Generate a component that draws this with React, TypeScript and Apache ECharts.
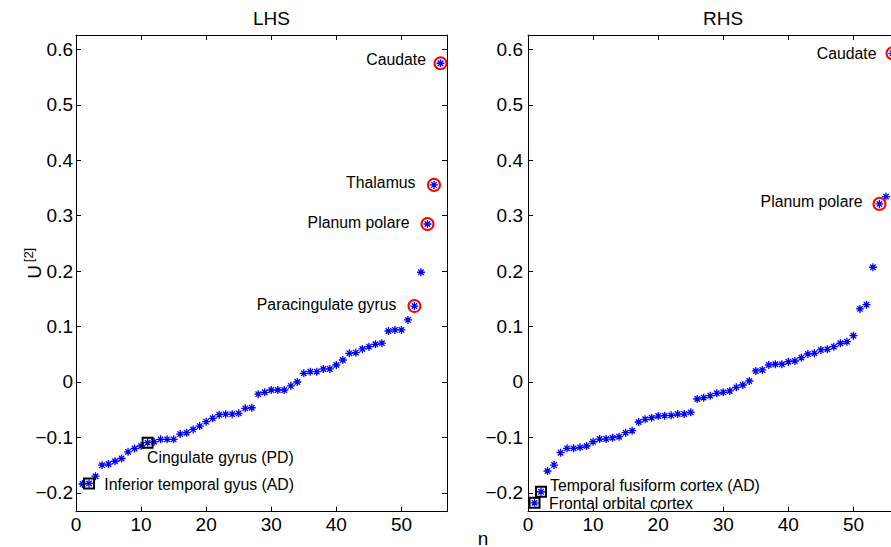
import React, { useEffect, useRef } from 'react';
import * as echarts from 'echarts';

// ---------- data ----------
const nValues = [
  1, 2, 3, 4, 5, 6, 7, 8, 9, 10, 11, 12, 13, 14, 15, 16, 17, 18, 19, 20,
  21, 22, 23, 24, 25, 26, 27, 28, 29, 30, 31, 32, 33, 34, 35, 36, 37, 38, 39, 40,
  41, 42, 43, 44, 45, 46, 47, 48, 49, 50, 51, 52, 53, 54, 55, 56,
];

const lhsValues = [
  -0.184, -0.183, -0.170, -0.150, -0.148, -0.143, -0.138, -0.126, -0.120, -0.1155,
  -0.1095, -0.108, -0.1035, -0.1035, -0.1035, -0.094, -0.0915, -0.0855, -0.0795, -0.0715,
  -0.0655, -0.059, -0.058, -0.058, -0.0565, -0.0475, -0.0465, -0.022, -0.0186, -0.0144,
  -0.0144, -0.0144, -0.007, 0.0, 0.0156, 0.0186, 0.0186, 0.0235, 0.0235, 0.0307,
  0.0397, 0.0517, 0.053, 0.0596, 0.0638, 0.068, 0.070, 0.092, 0.094, 0.094,
  0.112, 0.137, 0.198, 0.285, 0.3556, 0.575,
];

const rhsValues = [
  -0.218, -0.198, -0.1606, -0.1498, -0.1276, -0.1197, -0.1197, -0.1179, -0.1155, -0.1078,
  -0.1029, -0.1029, -0.1005, -0.0987, -0.0915, -0.0879, -0.0722, -0.0673, -0.0644, -0.0614,
  -0.0608, -0.0601, -0.0578, -0.0578, -0.0547, -0.0307, -0.0283, -0.0247, -0.0204, -0.0186,
  -0.0162, -0.0096, -0.0054, 0.0018, 0.0199, 0.0217, 0.0307, 0.032, 0.032, 0.0366,
  0.0379, 0.0439, 0.0505, 0.0518, 0.0578, 0.059, 0.0637, 0.0699, 0.0727, 0.0836,
  0.1318, 0.1395, 0.207, 0.3213, 0.3345, 0.593,
];

const lhsCircled = [52, 54, 55, 56];
const lhsCircledNames = ['Paracingulate gyrus', 'Planum polare', 'Thalamus', 'Caudate'];
const lhsBoxed = [2, 11];
const lhsBoxedNames = ['Inferior temporal gyus (AD)', 'Cingulate gyrus (PD)'];

const rhsCircled = [54, 56];
const rhsCircledNames = ['Planum polare', 'Caudate'];
const rhsBoxed = [1, 2];
const rhsBoxedNames = ['Frontal orbital cortex', 'Temporal fusiform cortex (AD)'];

const xMin = 0;
const xMax = 57;
const xStep = 10;
const yMin = -0.234;
const yMax = 0.626;
const yStep = 0.1;

const panelTitles = ['LHS', 'RHS'];
const xAxisTitle = 'n';
const yAxisTitleMain = 'U';
const yAxisTitleSup = '[2]';

// ---------- styles ----------
const FONT = '"Liberation Sans", Arial, Helvetica, sans-serif';
const ASTERISK =
  'path://M5,0 L5,10 M0,5 L10,5 M1.6,1.6 L8.4,8.4 M1.6,8.4 L8.4,1.6';

// label placement (style): [position, distance, dx, dy]
const labelPlacement: Record<string, [string, number, number, number]> = {
  'L:Caudate': ['left', 7.5, 0, -3.5],
  'L:Thalamus': ['left', 11.5, 0, -2.3],
  'L:Planum polare': ['left', 11, 0, -1.3],
  'L:Paracingulate gyrus': ['left', 11, 0, -1.7],
  'L:Cingulate gyrus (PD)': ['right', 0, -6.5, 15],
  'L:Inferior temporal gyus (AD)': ['right', 9.3, 0, 1],
  'R:Caudate': ['left', 9, 0, 0],
  'R:Planum polare': ['left', 10, 0, -2.3],
  'R:Temporal fusiform cortex (AD)': ['right', 3, 0, -6.7],
  'R:Frontal orbital cortex': ['right', 8.5, 0, 0.7],
};

const fmtY = (v: number) => {
  const r = Math.round(v / yStep);
  if (Math.abs(v / yStep - r) > 1e-6) return '';
  if (r === 0) return '0';
  const s = (Math.abs(r) * yStep).toFixed(1);
  return r < 0 ? '\u2212' + s : s;
};
const fmtX = (v: number) => {
  const r = Math.round(v / xStep);
  if (Math.abs(v / xStep - r) > 1e-6) return '';
  return String(r * xStep);
};

function makeAxes(gridIndex: number) {
  const tick = { show: true, inside: true, length: 5, lineStyle: { color: '#000', width: 1 } };
  const line = { show: true, onZero: false, lineStyle: { color: '#000', width: 1 } };
  const labelStyle = { color: '#000', fontSize: 19, fontFamily: FONT };
  const xCommon = {
    type: 'value', gridIndex, min: xMin, max: xMax, interval: xStep,
    splitLine: { show: false }, axisLine: line, axisTick: tick,
  };
  const yCommon = {
    type: 'value', gridIndex, min: yMin, max: yMax,
    minInterval: yStep, maxInterval: yStep, splitNumber: 9,
    splitLine: { show: false }, axisLine: line, axisTick: tick,
  };
  return {
    x: [
      { ...xCommon, position: 'bottom', axisLabel: { ...labelStyle, margin: 3, formatter: fmtX, showMaxLabel: false } },
      { ...xCommon, position: 'top', axisLabel: { show: false } },
    ],
    y: [
      {
        ...yCommon, position: 'left',
        axisLabel: { ...labelStyle, margin: gridIndex === 0 ? 3 : 5, formatter: fmtY, showMinLabel: false, showMaxLabel: false },
      },
      { ...yCommon, position: 'right', axisLabel: { show: false } },
    ],
  };
}

function panelSeries(side: 'L' | 'R', values: number[], circled: number[], circledNames: string[], boxed: number[], boxedNames: string[], axisBase: number) {
  const mkLabel = (name: string) => {
    const p = labelPlacement[side + ':' + name];
    return {
      show: true,
      formatter: name,
      position: p[0],
      distance: p[1],
      offset: [p[2], p[3]],
      color: '#000',
      fontSize: 15.8,
      fontFamily: FONT,
    };
  };
  return [
    {
      type: 'scatter',
      xAxisIndex: axisBase,
      yAxisIndex: axisBase,
      data: nValues.map((n, i) => [n, values[i]]),
      symbol: ASTERISK,
      symbolSize: 8,
      itemStyle: { color: 'rgba(0,0,0,0)', borderColor: '#0000ff', borderWidth: 1.3, opacity: 1 },
      silent: true,
      clip: false,
      z: 3,
    },
    {
      type: 'scatter',
      xAxisIndex: axisBase,
      yAxisIndex: axisBase,
      data: circled.map((n, k) => ({ value: [n, values[n - 1]], label: mkLabel(circledNames[k]) })),
      symbol: 'circle',
      symbolSize: 12,
      itemStyle: { color: 'rgba(0,0,0,0)', borderColor: '#ff0000', borderWidth: 2, opacity: 1 },
      silent: true,
      clip: false,
      z: 4,
    },
    {
      type: 'scatter',
      xAxisIndex: axisBase,
      yAxisIndex: axisBase,
      data: boxed.map((n, k) => ({ value: [n, values[n - 1]], label: mkLabel(boxedNames[k]) })),
      symbol: 'rect',
      symbolSize: 10,
      itemStyle: { color: 'rgba(0,0,0,0)', borderColor: '#000000', borderWidth: 2, opacity: 1 },
      silent: true,
      clip: false,
      z: 4,
    },
  ];
}

export default function App() {
  const ref = useRef<HTMLDivElement>(null);

  useEffect(() => {
    if (!ref.current) return;
    const chart = echarts.init(ref.current, undefined, { renderer: 'svg' });
    const a0 = makeAxes(0);
    const a1 = makeAxes(1);

    chart.setOption({
      animation: false,
      backgroundColor: '#ffffff',
      grid: [
        { left: 76, top: 35, width: 371, height: 476.7, containLabel: false, outerBoundsMode: 'none' },
        { left: 528, top: 35, width: 371, height: 476.7, containLabel: false, outerBoundsMode: 'none' },
      ],
      // axis order: 0 = LHS bottom/left, 1 = LHS top/right, 2 = RHS bottom/left, 3 = RHS top/right
      xAxis: [a0.x[0], a0.x[1], a1.x[0], a1.x[1]],
      yAxis: [a0.y[0], a0.y[1], a1.y[0], a1.y[1]],
      series: [
        ...panelSeries('L', lhsValues, lhsCircled, lhsCircledNames, lhsBoxed, lhsBoxedNames, 0),
        ...panelSeries('R', rhsValues, rhsCircled, rhsCircledNames, rhsBoxed, rhsBoxedNames, 2),
      ],
      graphic: [
        {
          type: 'text', x: 271.5, y: 18,
          style: { text: panelTitles[0], font: `19px ${FONT}`, fill: '#000', textAlign: 'center', textVerticalAlign: 'middle' },
        },
        {
          type: 'text', x: 723, y: 18,
          style: { text: panelTitles[1], font: `19px ${FONT}`, fill: '#000', textAlign: 'center', textVerticalAlign: 'middle' },
        },
        {
          type: 'text', x: 483, y: 538,
          style: { text: xAxisTitle, font: `19px ${FONT}`, fill: '#000', textAlign: 'center', textVerticalAlign: 'middle' },
        },
        {
          type: 'text', x: 34, y: 272, rotation: Math.PI / 2,
          style: { text: yAxisTitleMain, font: `19px ${FONT}`, fill: '#000', textAlign: 'center', textVerticalAlign: 'middle' },
        },
        {
          type: 'text', x: 28, y: 255, rotation: Math.PI / 2,
          style: { text: yAxisTitleSup, font: `13px ${FONT}`, fill: '#000', textAlign: 'center', textVerticalAlign: 'middle' },
        },
      ],
    });
    return () => chart.dispose();
  }, []);

  return (
    <div
      ref={ref}
      style={{ position: 'fixed', left: 0, top: 0, width: 891, height: 547, background: '#fff' }}
    />
  );
}
